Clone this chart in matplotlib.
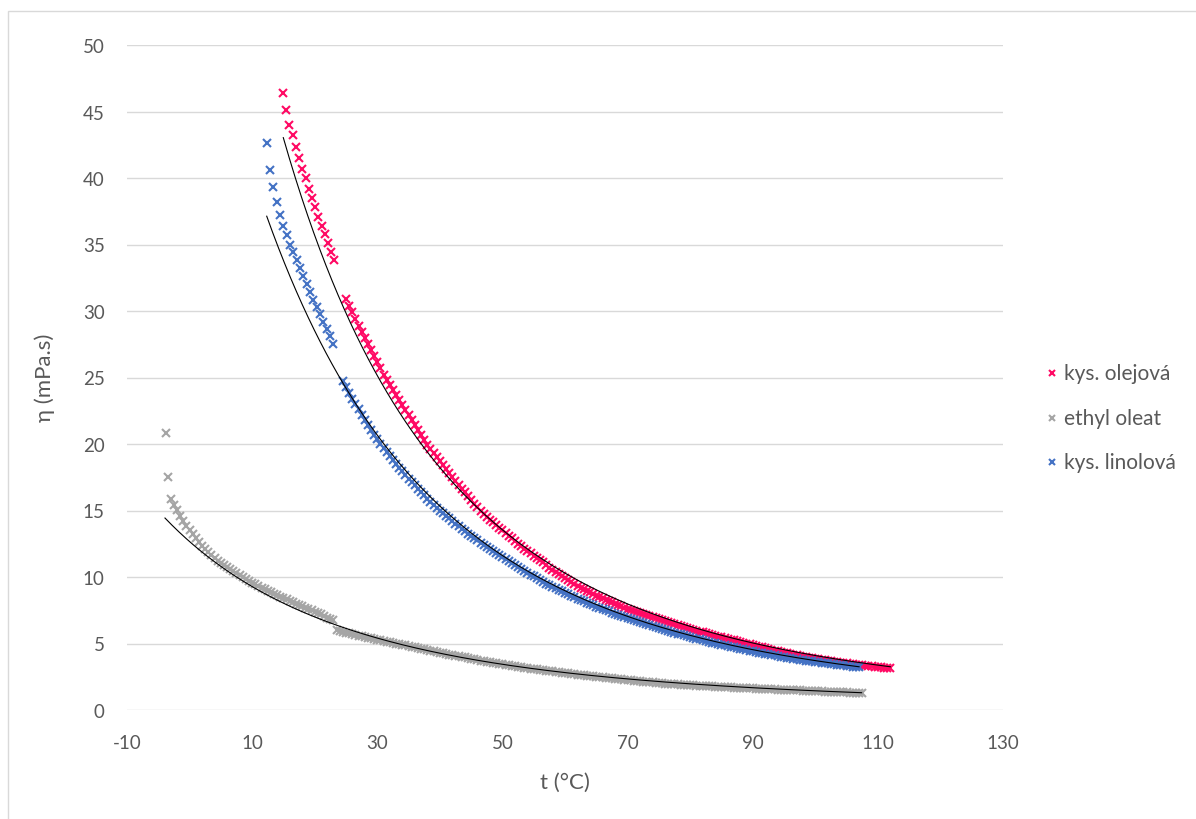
import matplotlib
matplotlib.use("Agg")
import matplotlib.pyplot as plt
import numpy as np
from matplotlib.lines import Line2D
from matplotlib.patches import Rectangle

plt.rcParams['font.family'] = ['Lato', 'DejaVu Sans']
plt.rcParams['axes.unicode_minus'] = False

# ---------------- data ----------------
series_names = ["kys. olejová", "ethyl oleat", "kys. linolová"]
series_colors = ["#FF0A64", "#A5A5A5", "#4472C4"]

oleic_t = [
    14.9, 15.4, 15.9, 16.5, 17.0, 17.5, 18.0, 18.6, 19.1, 19.6, 20.1, 20.6, 21.1, 21.6, 22.2, 22.6, 23.1,
    25.0, 25.5, 26.0, 26.5, 27.0, 27.5, 28.0, 28.5, 29.0, 29.5,
    30.0, 30.5, 31.0, 31.5, 32.0, 32.5, 33.0, 33.5, 34.0, 34.5,
    35.0, 35.5, 36.0, 36.5, 37.0, 37.5, 38.0, 38.5, 39.0, 39.5,
    40.0, 40.5, 41.0, 41.5, 42.0, 42.5, 43.0, 43.5, 44.0, 44.5,
    45.0, 45.5, 46.0, 46.5, 47.0, 47.5, 48.0, 48.5, 49.0, 49.5,
    50.0, 50.5, 51.0, 51.5, 52.0, 52.5, 53.0, 53.5, 54.0, 54.5,
    55.0, 55.5, 56.0, 56.5, 57.0, 57.5, 58.0, 58.5, 59.0, 59.5,
    60.0, 60.5, 61.0, 61.5, 62.0, 62.5, 63.0, 63.5, 64.0, 64.5,
    65.0, 65.5, 66.0, 66.5, 67.0, 67.5, 68.0, 68.5, 69.0, 69.5,
    70.0, 70.5, 71.0, 71.5, 72.0, 72.5, 73.0, 73.5, 74.0, 74.5,
    75.0, 75.5, 76.0, 76.5, 77.0, 77.5, 78.0, 78.5, 79.0, 79.5,
    80.0, 80.5, 81.0, 81.5, 82.0, 82.5, 83.0, 83.5, 84.0, 84.5,
    85.0, 85.5, 86.0, 86.5, 87.0, 87.5, 88.0, 88.5, 89.0, 89.5,
    90.0, 90.5, 91.0, 91.5, 92.0, 92.5, 93.0, 93.5, 94.0, 94.5,
    95.0, 95.5, 96.0, 96.5, 97.0, 97.5, 98.0, 98.5, 99.0, 99.5,
    100.0, 100.5, 101.0, 101.5, 102.0, 102.5, 103.0, 103.5, 104.0, 104.5,
    105.0, 105.5, 106.0, 106.5, 107.0, 107.5, 108.0, 108.5, 109.0, 109.5,
    110.0, 110.5, 111.0, 111.5, 112.0]
oleic_eta = [
    46.4, 45.1, 44.0, 43.2, 42.3, 41.5, 40.7, 40.0, 39.2, 38.5, 37.8, 37.1, 36.4, 35.8, 35.1, 34.4, 33.8,
    30.9, 30.4, 29.9, 29.4, 28.9, 28.45, 28.0, 27.55, 27.1, 26.65,
    26.2, 25.7, 25.2, 24.8, 24.4, 24.05, 23.7, 23.3, 22.9, 22.55,
    22.2, 21.8, 21.4, 21.05, 20.7, 20.3, 19.95, 19.6, 19.3, 19.0,
    18.7, 18.4, 18.1, 17.8, 17.5, 17.2, 16.95, 16.65, 16.4, 16.1,
    15.8, 15.5, 15.25, 15.0, 14.75, 14.5, 14.3, 14.1, 13.9, 13.7,
    13.5, 13.3, 13.1, 12.9, 12.7, 12.5, 12.3, 12.1, 11.95, 11.8,
    11.6, 11.4, 11.25, 11.1, 10.9, 10.7, 10.55, 10.4, 10.25, 10.1,
    9.95, 9.8, 9.65, 9.5, 9.35, 9.2, 9.1, 8.97, 8.85, 8.72,
    8.6, 8.5, 8.4, 8.3, 8.2, 8.1, 8.0, 7.9, 7.8, 7.7,
    7.6, 7.52, 7.45, 7.37, 7.3, 7.21, 7.13, 7.05, 6.97, 6.9,
    6.82, 6.75, 6.67, 6.6, 6.52, 6.45, 6.38, 6.31, 6.24, 6.17,
    6.1, 6.03, 5.96, 5.9, 5.83, 5.76, 5.7, 5.64, 5.58, 5.52,
    5.46, 5.4, 5.34, 5.28, 5.23, 5.17, 5.12, 5.06, 5.0, 4.94,
    4.88, 4.82, 4.76, 4.7, 4.64, 4.58, 4.52, 4.46, 4.41, 4.36,
    4.31, 4.26, 4.21, 4.16, 4.11, 4.06, 4.02, 3.98, 3.94, 3.9,
    3.86, 3.82, 3.78, 3.74, 3.7, 3.66, 3.63, 3.6, 3.56, 3.53,
    3.5, 3.47, 3.44, 3.41, 3.39, 3.36, 3.34, 3.31, 3.29, 3.26,
    3.24, 3.21, 3.19, 3.16, 3.14]

ethyl_t = [
    -3.8, -3.4, -2.9,
    -2.5, -2.0, -1.5, -1.0, -0.5, 0.0, 0.5, 1.0, 1.5, 2.0,
    2.5, 3.0, 3.5, 4.0, 4.5, 5.0, 5.5, 6.0, 6.5, 7.0,
    7.5, 8.0, 8.5, 9.0, 9.5, 10.0, 10.5, 11.0, 11.5, 12.0,
    12.5, 13.0, 13.5, 14.0, 14.5, 15.0, 15.5, 16.0, 16.5, 17.0,
    17.5, 18.0, 18.5, 19.0, 19.5, 20.0, 20.5, 21.0, 21.5, 22.0,
    22.5, 23.0,
    23.5, 24.0, 24.5, 25.0, 25.5, 26.0, 26.5, 27.0, 27.5, 28.0,
    28.5, 29.0, 29.5, 30.0, 30.5, 31.0, 31.5, 32.0, 32.5, 33.0,
    33.5, 34.0, 34.5, 35.0, 35.5, 36.0, 36.5, 37.0, 37.5, 38.0,
    38.5, 39.0, 39.5, 40.0, 40.5, 41.0, 41.5, 42.0, 42.5, 43.0,
    43.5, 44.0, 44.5, 45.0, 45.5, 46.0, 46.5, 47.0, 47.5, 48.0,
    48.5, 49.0, 49.5, 50.0, 50.5, 51.0, 51.5, 52.0, 52.5, 53.0,
    53.5, 54.0, 54.5, 55.0, 55.5, 56.0, 56.5, 57.0, 57.5, 58.0,
    58.5, 59.0, 59.5, 60.0, 60.5, 61.0, 61.5, 62.0, 62.5, 63.0,
    63.5, 64.0, 64.5, 65.0, 65.5, 66.0, 66.5, 67.0, 67.5, 68.0,
    68.5, 69.0, 69.5, 70.0, 70.5, 71.0, 71.5, 72.0, 72.5, 73.0,
    73.5, 74.0, 74.5, 75.0, 75.5, 76.0, 76.5, 77.0, 77.5, 78.0,
    78.5, 79.0, 79.5, 80.0, 80.5, 81.0, 81.5, 82.0, 82.5, 83.0,
    83.5, 84.0, 84.5, 85.0, 85.5, 86.0, 86.5, 87.0, 87.5, 88.0,
    88.5, 89.0, 89.5, 90.0, 90.5, 91.0, 91.5, 92.0, 92.5, 93.0,
    93.5, 94.0, 94.5, 95.0, 95.5, 96.0, 96.5, 97.0, 97.5, 98.0,
    98.5, 99.0, 99.5, 100.0, 100.5, 101.0, 101.5, 102.0, 102.5, 103.0,
    103.5, 104.0, 104.5, 105.0, 105.5, 106.0, 106.5, 107.0, 107.5]
ethyl_eta = [
    20.8, 17.5, 15.9,
    15.45, 15.05, 14.6, 14.2, 13.85, 13.5, 13.2, 12.9, 12.62, 12.35,
    12.1, 11.85, 11.63, 11.42, 11.23, 11.05, 10.88, 10.72, 10.57, 10.42,
    10.27, 10.13, 9.99, 9.85, 9.71, 9.58, 9.45, 9.33, 9.21, 9.09,
    8.97, 8.86, 8.75, 8.64, 8.53, 8.42, 8.31, 8.21, 8.1, 8.0,
    7.9, 7.8, 7.7, 7.6, 7.5, 7.4, 7.3, 7.2, 7.1, 6.95,
    6.85, 6.75,
    6.0, 5.94, 5.88, 5.82, 5.76, 5.7, 5.65, 5.6, 5.55, 5.5,
    5.45, 5.4, 5.35, 5.3, 5.25, 5.2, 5.15, 5.1, 5.05, 5.0,
    4.95, 4.9, 4.85, 4.8, 4.75, 4.7, 4.65, 4.6, 4.55, 4.5,
    4.45, 4.4, 4.35, 4.31, 4.26, 4.22, 4.17, 4.13, 4.08, 4.04,
    3.99, 3.95, 3.9, 3.86, 3.81, 3.77, 3.72, 3.68, 3.64, 3.6,
    3.56, 3.52, 3.48, 3.44, 3.4, 3.37, 3.33, 3.3, 3.26, 3.23,
    3.19, 3.16, 3.12, 3.09, 3.05, 3.02, 2.99, 2.96, 2.93, 2.9,
    2.87, 2.84, 2.81, 2.78, 2.75, 2.72, 2.69, 2.66, 2.63, 2.61,
    2.58, 2.56, 2.53, 2.5, 2.47, 2.45, 2.42, 2.4, 2.37, 2.35,
    2.32, 2.3, 2.27, 2.25, 2.22, 2.2, 2.17, 2.15, 2.13, 2.11,
    2.09, 2.07, 2.05, 2.03, 2.01, 1.99, 1.97, 1.96, 1.94, 1.93,
    1.91, 1.9, 1.88, 1.87, 1.85, 1.84, 1.82, 1.81, 1.79, 1.78,
    1.77, 1.76, 1.74, 1.73, 1.72, 1.71, 1.7, 1.69, 1.68, 1.67,
    1.66, 1.65, 1.63, 1.62, 1.61, 1.6, 1.59, 1.58, 1.57, 1.56,
    1.55, 1.54, 1.53, 1.52, 1.51, 1.5, 1.49, 1.48, 1.47, 1.46,
    1.45, 1.44, 1.43, 1.42, 1.41, 1.4, 1.39, 1.38, 1.37, 1.36,
    1.35, 1.34, 1.33, 1.32, 1.31, 1.3, 1.3, 1.29, 1.28]

linoleic_t = [
    12.3, 12.9, 13.4, 13.9, 14.5, 15.0, 15.5, 16.1, 16.6, 17.1, 17.7, 18.2, 18.7, 19.3, 19.8,
    20.3, 20.9, 21.4, 21.9, 22.5, 23.0,
    24.5,
    25.0, 25.5, 26.0, 26.5, 27.0, 27.5, 28.0, 28.5, 29.0, 29.5,
    30.0, 30.5, 31.0, 31.5, 32.0, 32.5, 33.0, 33.5, 34.0, 34.5,
    35.0, 35.5, 36.0, 36.5, 37.0, 37.5, 38.0, 38.5, 39.0, 39.5,
    40.0, 40.5, 41.0, 41.5, 42.0, 42.5, 43.0, 43.5, 44.0, 44.5,
    45.0, 45.5, 46.0, 46.5, 47.0, 47.5, 48.0, 48.5, 49.0, 49.5,
    50.0, 50.5, 51.0, 51.5, 52.0, 52.5, 53.0, 53.5, 54.0, 54.5,
    55.0, 55.5, 56.0, 56.5, 57.0, 57.5, 58.0, 58.5, 59.0, 59.5,
    60.0, 60.5, 61.0, 61.5, 62.0, 62.5, 63.0, 63.5, 64.0, 64.5,
    65.0, 65.5, 66.0, 66.5, 67.0, 67.5, 68.0, 68.5, 69.0, 69.5,
    70.0, 70.5, 71.0, 71.5, 72.0, 72.5, 73.0, 73.5, 74.0, 74.5,
    75.0, 75.5, 76.0, 76.5, 77.0, 77.5, 78.0, 78.5, 79.0, 79.5,
    80.0, 80.5, 81.0, 81.5, 82.0, 82.5, 83.0, 83.5, 84.0, 84.5,
    85.0, 85.5, 86.0, 86.5, 87.0, 87.5, 88.0, 88.5, 89.0, 89.5,
    90.0, 90.5, 91.0, 91.5, 92.0, 92.5, 93.0, 93.5, 94.0, 94.5,
    95.0, 95.5, 96.0, 96.5, 97.0, 97.5, 98.0, 98.5, 99.0, 99.5,
    100.0, 100.5, 101.0, 101.5, 102.0, 102.5, 103.0, 103.5, 104.0, 104.5,
    105.0, 105.5, 106.0, 106.5, 107.0]
linoleic_eta = [
    42.6, 40.6, 39.3, 38.2, 37.2, 36.4, 35.7, 35.0, 34.4, 33.8, 33.2, 32.6, 32.05, 31.4, 30.85,
    30.3, 29.8, 29.2, 28.65, 28.1, 27.5,
    24.7,
    24.25, 23.82, 23.4, 23.0, 22.6, 22.2, 21.8, 21.42, 21.05, 20.7,
    20.35, 20.02, 19.7, 19.4, 19.1, 18.8, 18.5, 18.22, 17.95, 17.67,
    17.4, 17.15, 16.9, 16.65, 16.4, 16.15, 15.9, 15.67, 15.45, 15.22,
    15.0, 14.8, 14.6, 14.4, 14.2, 14.0, 13.8, 13.62, 13.45, 13.27,
    13.1, 12.92, 12.75, 12.57, 12.4, 12.25, 12.1, 11.95, 11.8, 11.65,
    11.5, 11.35, 11.2, 11.05, 10.9, 10.75, 10.6, 10.46, 10.32, 10.18,
    10.05, 9.9, 9.75, 9.62, 9.5, 9.38, 9.26, 9.14, 9.03, 8.91,
    8.8, 8.69, 8.58, 8.47, 8.37, 8.27, 8.17, 8.07, 7.97, 7.87,
    7.78, 7.69, 7.6, 7.51, 7.42, 7.33, 7.25, 7.16, 7.08, 7.0,
    6.92, 6.84, 6.76, 6.68, 6.6, 6.52, 6.45, 6.37, 6.3, 6.23,
    6.16, 6.09, 6.02, 5.95, 5.88, 5.81, 5.75, 5.68, 5.62, 5.55,
    5.49, 5.43, 5.37, 5.31, 5.25, 5.19, 5.13, 5.07, 5.02, 4.96,
    4.91, 4.85, 4.8, 4.75, 4.7, 4.65, 4.6, 4.55, 4.5, 4.45,
    4.41, 4.36, 4.32, 4.27, 4.23, 4.18, 4.14, 4.1, 4.06, 4.02,
    3.98, 3.94, 3.9, 3.86, 3.83, 3.79, 3.76, 3.72, 3.69, 3.65,
    3.62, 3.59, 3.56, 3.53, 3.5, 3.47, 3.44, 3.41, 3.38, 3.35,
    3.32, 3.29, 3.26, 3.23, 3.2]

# black trend curves (ln eta = A + B / (t - C)), parameters
trend_A = [-4.777, -3.954, -5.223]
trend_B = [1910.0, 1291.4, 2199.0]
trend_C = [-208.7, -198.9, -236.5]
trend_from = [14.98, -3.93, 12.33]
trend_to = [112.0, 107.4, 107.0]

x_ticks = [-10, 10, 30, 50, 70, 90, 110, 130]
y_ticks = [0, 5, 10, 15, 20, 25, 30, 35, 40, 45, 50]
x_label = "t (°C)"
y_label = "η (mPa.s)"

# ---------------- figure ----------------
W, H = 1196, 820
fig = plt.figure(figsize=(W / 100, H / 100), dpi=100)
fig.patch.set_facecolor("white")

# outer chart border
fig.add_artist(Rectangle((8 / W, -0.05), 1.2, 1 - 12 / H + 0.05, transform=fig.transFigure,
                         fill=False, edgecolor="#D9D9D9", lw=1.0))

ax = fig.add_axes([127 / W, 1 - 711 / H, (1003 - 127) / W, (711 - 46) / H])
ax.set_xlim(-10, 130)
ax.set_ylim(0, 50)
ax.set_xticks(x_ticks)
ax.set_yticks(y_ticks)
ax.grid(axis="y", color="#D9D9D9", lw=1.0)
ax.set_axisbelow(True)
for s in ax.spines.values():
    s.set_visible(False)
ax.tick_params(length=0, labelcolor="#595959", labelsize=13.5)
ax.tick_params(axis="x", pad=17)
ax.tick_params(axis="y", pad=16)

all_t = [oleic_t, ethyl_t, linoleic_t]
all_eta = [oleic_eta, ethyl_eta, linoleic_eta]
for t, eta, c in zip(all_t, all_eta, series_colors):
    ax.plot(t, eta, linestyle="none", marker="x", ms=5.2, mew=1.5, color=c, zorder=2)

for A, B, C, a, b in zip(trend_A, trend_B, trend_C, trend_from, trend_to):
    tl = np.linspace(a, b, 300)
    ax.plot(tl, np.exp(A + B / (tl - C)), color="black", lw=0.8, zorder=3)

fig.text(565 / W, 1 - 783 / H, x_label, ha="center", va="center", fontsize=16, color="#595959")
fig.text(45 / W, 1 - 378 / H, y_label, ha="center", va="center", rotation=90, fontsize=16,
         color="#595959")

# legend
leg_y = [374, 419, 463]
for name, c, yy in zip(series_names, series_colors, leg_y):
    fig.add_artist(Line2D([1052 / W], [1 - yy / H], transform=fig.transFigure, linestyle="none",
                          marker="x", ms=5.0, mew=1.5, color=c))
    fig.text(1064 / W, 1 - yy / H, name, ha="left", va="center", fontsize=15, color="#595959")

fig.savefig("out.png", dpi=100)
